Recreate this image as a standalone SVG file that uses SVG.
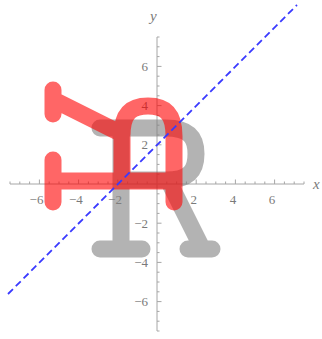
<svg xmlns="http://www.w3.org/2000/svg" xmlns:xlink="http://www.w3.org/1999/xlink" width="322" height="339" viewBox="0 0 322 339">
<style>
.axis{stroke:#a6a6a6;stroke-width:1;fill:none}
.tick{stroke:#a6a6a6;stroke-width:1;fill:none}
.lbl{font-family:"Liberation Serif","Times New Roman",serif;font-size:13px;fill:#7a7a7a}
.ax{font-family:"Liberation Serif","Times New Roman",serif;font-size:15px;font-style:italic;fill:#7a7a7a}
.glyph{fill:none;stroke-width:17;stroke-linecap:round;stroke-linejoin:round}
</style>
<defs>
<path id="R" d="M100,128 H166 C190,128 196,138 196,154 C196,170 190,180 166,180 H121 M121,128 V249 M100,249 H142 M168,180 L201,246 M188,249 H212"/>
</defs>
<rect width="322" height="339" fill="#ffffff"/>
<g id="axes">
<path class="axis" d="M10,184 H304 M157,37 V331"/>
<path class="tick" d="M166.8,184v-2.5M176.6,184v-2.5M186.4,184v-2.5M206,184v-2.5M215.8,184v-2.5M225.6,184v-2.5M245.2,184v-2.5M255,184v-2.5M264.8,184v-2.5M284.4,184v-2.5M294.2,184v-2.5M304,184v-2.5M147.2,184v-2.5M137.4,184v-2.5M127.6,184v-2.5M108,184v-2.5M98.2,184v-2.5M88.4,184v-2.5M68.8,184v-2.5M59,184v-2.5M49.2,184v-2.5M29.6,184v-2.5M19.8,184v-2.5M10,184v-2.5"/>
<path class="tick" d="M196.2,184v-4.5M235.4,184v-4.5M274.6,184v-4.5M117.8,184v-4.5M78.6,184v-4.5M39.4,184v-4.5"/>
<path class="tick" d="M157,174.2h2.5M157,164.4h2.5M157,154.6h2.5M157,135h2.5M157,125.2h2.5M157,115.4h2.5M157,95.8h2.5M157,86h2.5M157,76.2h2.5M157,56.6h2.5M157,46.8h2.5M157,37h2.5M157,193.8h2.5M157,203.6h2.5M157,213.4h2.5M157,233h2.5M157,242.8h2.5M157,252.6h2.5M157,272.2h2.5M157,282h2.5M157,291.8h2.5M157,311.4h2.5M157,321.2h2.5M157,331h2.5"/>
<path class="tick" d="M157,144.8h4.5M157,105.6h4.5M157,66.4h4.5M157,223.2h4.5M157,262.4h4.5M157,301.6h4.5"/>
<g class="lbl" text-anchor="middle">
<text x="36.5" y="204">−6</text>
<text x="75.8" y="204">−4</text>
<text x="115" y="204">−2</text>
<text x="193.7" y="204">2</text>
<text x="232.9" y="204">4</text>
<text x="272.1" y="204">6</text>
</g>
<g class="lbl" text-anchor="end">
<text x="148" y="71">6</text>
<text x="148" y="110.2">4</text>
<text x="148" y="149.4">2</text>
<text x="148" y="227.8">−2</text>
<text x="148" y="267">−4</text>
<text x="148" y="306.2">−6</text>
</g>
<text class="ax" x="313" y="189">x</text>
<text class="ax" x="150" y="21">y</text>
</g>
<g id="original-R">
<use xlink:href="#R" class="glyph" stroke="#808080" opacity="0.6"/>
</g>
<g id="reflected-R">
<use xlink:href="#R" class="glyph" stroke="#ff0000" opacity="0.6" transform="matrix(0,-1,-1,0,302,302)"/>
</g>
<g id="connectors">
<line x1="8" y1="294" x2="297" y2="5" stroke="#3a3aff" stroke-width="1.8" stroke-dasharray="7,4"/>
</g>
</svg>
